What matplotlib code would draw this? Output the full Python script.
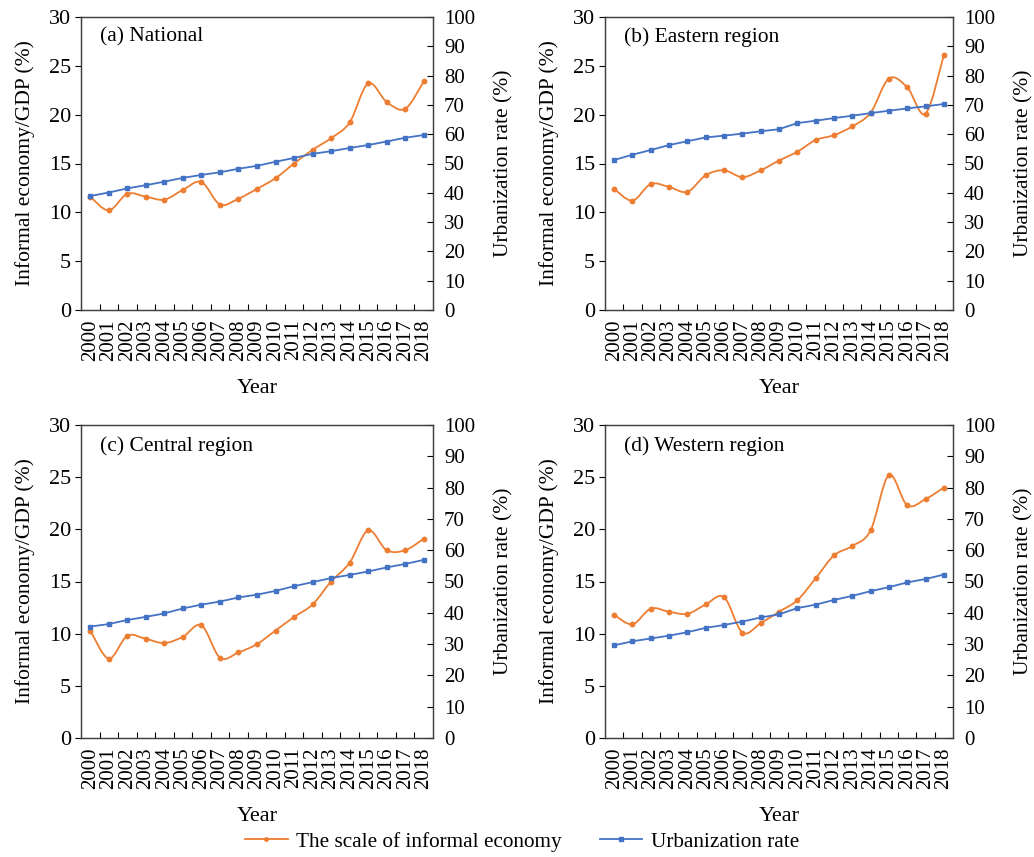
import numpy as np
import matplotlib
matplotlib.use("Agg")
import matplotlib.pyplot as plt
from matplotlib.path import Path
from matplotlib.patches import PathPatch
from matplotlib.lines import Line2D

plt.rcParams['font.family'] = ['Liberation Serif', 'DejaVu Serif']

years = [str(y) for y in range(2000, 2019)]

titles = ["(a) National", "(b) Eastern region", "(c) Central region", "(d) Western region"]

informal_national = [11.6, 10.2, 11.9, 11.6, 11.3, 12.3, 13.1, 10.8, 11.4, 12.4, 13.5, 15.0,
                     16.4, 17.6, 19.2, 23.2, 21.3, 20.6, 23.4]
informal_eastern = [12.4, 11.2, 12.9, 12.6, 12.1, 13.8, 14.3, 13.6, 14.3, 15.3, 16.2, 17.4,
                    17.9, 18.8, 20.2, 23.7, 22.8, 20.1, 26.1]
informal_central = [10.3, 7.6, 9.8, 9.5, 9.1, 9.7, 10.8, 7.7, 8.2, 9.0, 10.3, 11.6,
                    12.8, 15.0, 16.8, 19.9, 18.0, 18.0, 19.1]
informal_western = [11.8, 10.9, 12.4, 12.1, 11.9, 12.8, 13.5, 10.1, 11.0, 12.1, 13.2, 15.3,
                    17.5, 18.4, 19.9, 25.2, 22.3, 22.9, 24.0]

urban_national = [38.9, 40.1, 41.5, 42.6, 43.8, 45.1, 46.1, 47.0, 48.2, 49.2, 50.6, 51.9,
                  53.3, 54.2, 55.3, 56.3, 57.5, 58.8, 59.7]
urban_eastern = [51.2, 53.0, 54.6, 56.3, 57.6, 58.9, 59.5, 60.2, 61.0, 61.7, 63.8, 64.6,
                 65.5, 66.3, 67.2, 68.0, 68.8, 69.5, 70.3]
urban_central = [35.6, 36.4, 37.7, 38.7, 39.8, 41.4, 42.6, 43.6, 44.9, 45.8, 47.0, 48.5,
                 49.8, 51.1, 52.1, 53.2, 54.5, 55.6, 56.9]
urban_western = [29.6, 30.9, 31.8, 32.7, 33.8, 35.2, 36.1, 37.2, 38.5, 39.5, 41.5, 42.6,
                 44.1, 45.4, 46.9, 48.2, 49.7, 50.8, 52.2]

informal = [informal_national, informal_eastern, informal_central, informal_western]
urban = [urban_national, urban_eastern, urban_central, urban_western]

ORANGE = "#ED7D31"
BLUE = "#4472C4"
FS = 15


def smooth_path(x, y):
    # Excel-like smoothed line: cubic Bezier through every point
    x = np.asarray(x, float)
    y = np.asarray(y, float)
    pts = np.column_stack([x, y])
    n = len(pts)
    verts = [pts[0]]
    codes = [Path.MOVETO]
    for i in range(n - 1):
        p0 = pts[i - 1] if i > 0 else pts[i]
        p1 = pts[i]
        p2 = pts[i + 1]
        p3 = pts[i + 2] if i + 2 < n else pts[i + 1]
        c1 = p1 + (p2 - p0) / 6.0
        c2 = p2 - (p3 - p1) / 6.0
        verts += [c1, c2, p2]
        codes += [Path.CURVE4] * 3
    return Path(verts, codes)


fig = plt.figure(figsize=(10.34, 8.57), dpi=100)

W, H = 1034.0, 857.0
boxes = [(81, 17, 433, 310), (605, 17, 953, 310),
         (81, 425, 433, 738), (605, 425, 953, 738)]

xpos = np.arange(len(years))

for k, (l, t, r, b) in enumerate(boxes):
    ax = fig.add_axes([l / W, (H - b) / H, (r - l) / W, (b - t) / H])
    ax2 = ax.twinx()

    ax.add_patch(PathPatch(smooth_path(xpos, informal[k]), facecolor="none",
                           edgecolor=ORANGE, lw=1.3, zorder=3))
    ax.plot(xpos, informal[k], ls="none", marker="o", ms=3.2, color=ORANGE, zorder=4)
    ax2.plot(xpos, urban[k], color=BLUE, lw=1.3, marker="s", ms=3.2, zorder=4)

    ax.set_xlim(-0.5, len(years) - 0.5)
    ax.set_ylim(0, 30)
    ax2.set_ylim(0, 100)
    ax.set_yticks(range(0, 31, 5))
    ax2.set_yticks(range(0, 101, 10))

    ax.set_xticks(xpos)
    ax.set_xticklabels(years, rotation=90, fontsize=FS)
    ax.set_xticks(xpos[:-1] + 0.5, minor=True)
    ax.tick_params(axis="x", which="major", length=0, pad=7)
    ax.tick_params(axis="x", which="minor", direction="in", length=4, width=0.8)
    ax.tick_params(axis="y", direction="out", length=4, width=0.8, labelsize=16, pad=3)
    ax2.tick_params(axis="y", direction="in", length=4, width=0.8, labelsize=15, pad=8)

    for a in (ax, ax2):
        for s in a.spines.values():
            s.set_linewidth(0.9)
            s.set_color("#404040")

    ax.set_ylabel("Informal economy/GDP (%)", fontsize=15.5, labelpad=10)
    ax2.set_ylabel("Urbanization rate (%)", fontsize=15.5, labelpad=14)
    ax.set_xlabel("Year", fontsize=16, labelpad=13)

    ax.text(0.054, 0.965, titles[k], transform=ax.transAxes, fontsize=15.5,
            ha="left", va="top")

handles = [Line2D([], [], color=ORANGE, lw=1.3, marker="o", ms=2.5),
           Line2D([], [], color=BLUE, lw=1.3, marker="s", ms=2.5)]
fig.legend(handles, ["The scale of informal economy", "Urbanization rate"],
           loc="lower center", bbox_to_anchor=(0.505, -0.016), ncol=2, frameon=False,
           fontsize=15.3, handlelength=2.0, columnspacing=1.8, handletextpad=0.4)

fig.savefig("out.png", dpi=100)
